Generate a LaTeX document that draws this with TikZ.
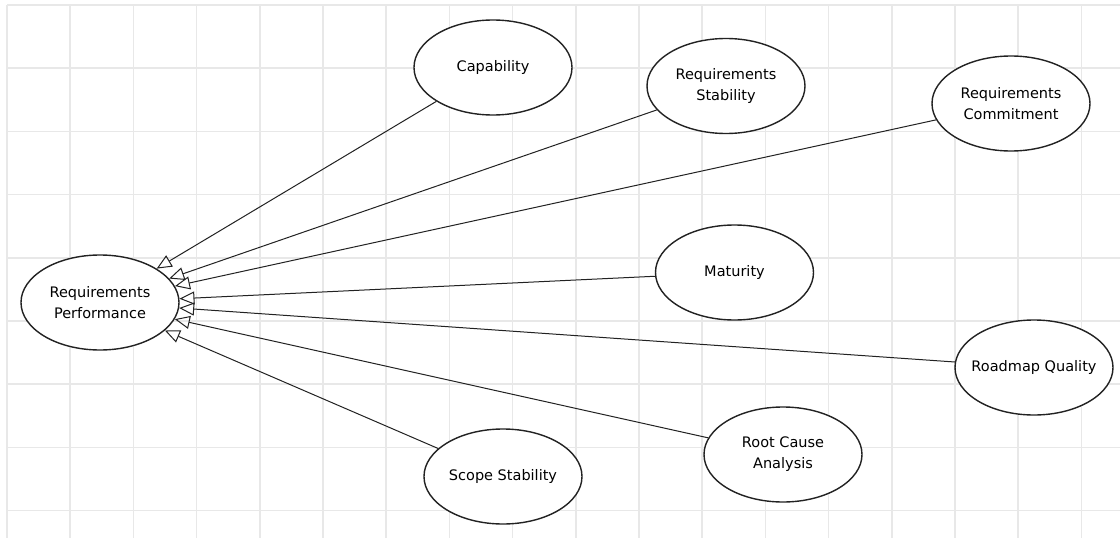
\documentclass[tikz,border=0pt]{standalone}
\usepackage{fontspec}
\setmainfont{DejaVu Sans}
\usepackage{xcolor}
\usepackage{tikz}
\usetikzlibrary{
arrows.meta,
shapes.geometric
}

\definecolor{gridgray}{HTML}{E8E8E8}
\definecolor{inkgray}{HTML}{222222}

\begin{document}
\begin{tikzpicture}[
x=1pt,y=-1pt,
factor/.style={
draw=inkgray,
fill=white,
ellipse,
line width=1.4pt,
minimum width=158pt,
minimum height=95pt,
inner xsep=-12pt,
inner ysep=0pt,
align=center,
text=black,
font=\fontsize{14.5}{21}\selectfont
},
arrow/.style={-{Triangle[open,length=15pt,width=13pt]},draw=inkgray,line width=1pt},
gridline/.style={draw=gridgray,line width=1.5pt}
]

\useasboundingbox (0,0) rectangle (1120,538);
\fill[white] (0,0) rectangle (1120,538);

\foreach \i in {0,...,17}
  \draw[gridline] ({7+63.2*\i},5) -- ({7+63.2*\i},538);
\foreach \j in {0,...,8}
  \draw[gridline] (7,{5+63.2*\j}) -- (1120,{5+63.2*\j});

\node[factor] (perf) at (100,302.5) {Requirements\\Performance};
\node[factor] (capability) at (493,67.5) {Capability};
\node[factor] (reqstab) at (726,86) {Requirements\\Stability};
\node[factor] (reqcommit) at (1011,103.5) {Requirements\\Commitment};
\node[factor] (maturity) at (734.5,272.5) {Maturity};
\node[factor] (roadmap) at (1034,367.5) {Roadmap Quality};
\node[factor] (rootcause) at (783,454.5) {Root Cause\\Analysis};
\node[factor] (scope) at (503,476.5) {Scope Stability};

\draw[arrow] (capability) -- (perf);
\draw[arrow] (reqstab) -- (perf);
\draw[arrow] (reqcommit) -- (perf);
\draw[arrow] (maturity) -- (perf);
\draw[arrow] (roadmap) -- (perf);
\draw[arrow] (rootcause) -- (perf);
\draw[arrow] (scope) -- (perf);

\end{tikzpicture}
\end{document}
